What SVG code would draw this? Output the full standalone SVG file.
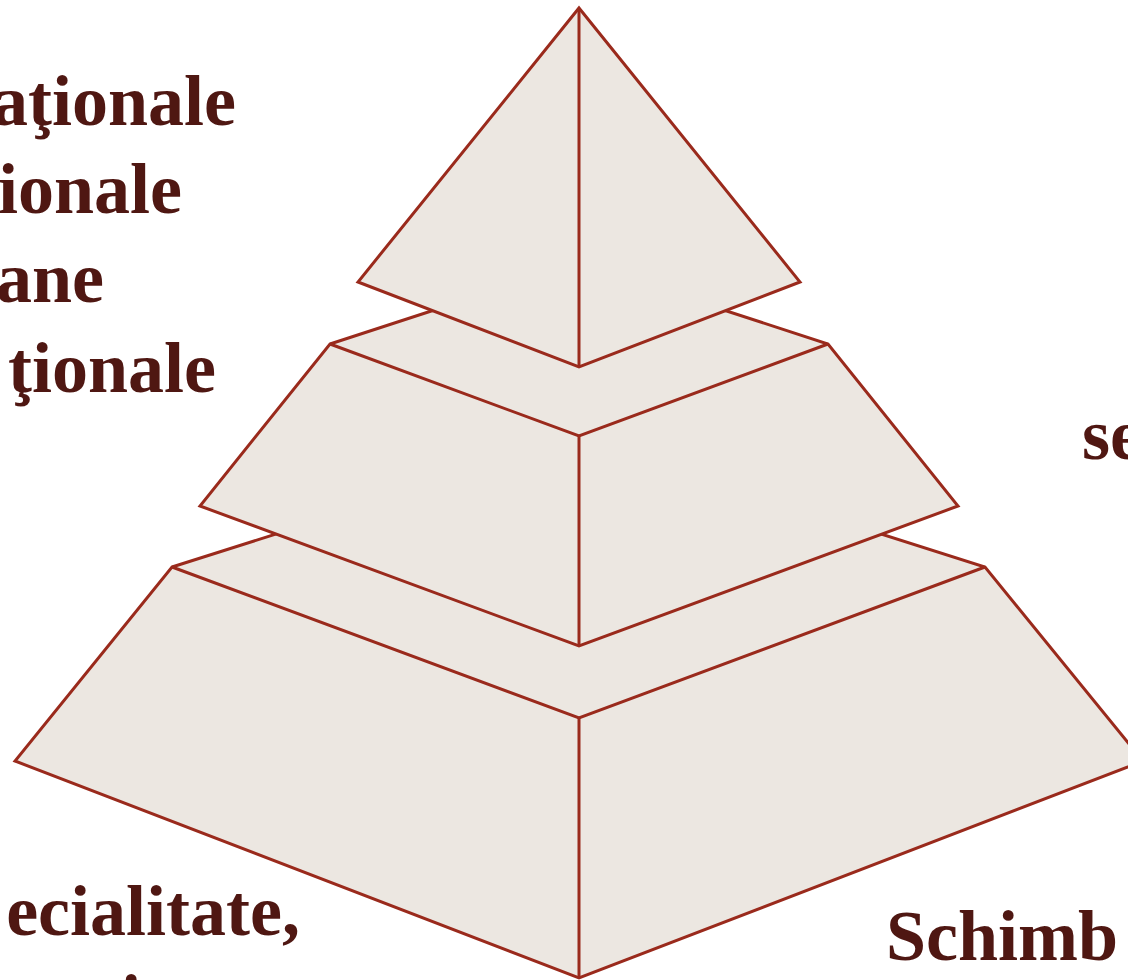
<svg xmlns="http://www.w3.org/2000/svg" width="1128" height="980" viewBox="0 0 1128 980">
<style>
.face{fill:#ECE7E1;stroke:#9A2A1C;stroke-width:3;stroke-linejoin:miter}
.edge{fill:none;stroke:#9A2A1C;stroke-width:3}
.lbl{font-family:"Liberation Serif","Times New Roman",serif;font-weight:bold;font-size:72px;fill:#4F1712}
</style>
<rect width="1128" height="980" fill="#FFFFFF"/>
<g id="tier-bottom">
<polygon class="face" points="172,567 579,438 985,567 1143,761 579,978 15,761"/>
<polyline class="edge" points="172,567 579,718 985,567"/>
<line class="edge" x1="579" y1="718" x2="579" y2="978"/>
</g>
<g id="tier-middle">
<polygon class="face" points="330,344 579,263 828,344 958,506 579,646 200,506"/>
<polyline class="edge" points="330,344 579,436 828,344"/>
<line class="edge" x1="579" y1="436" x2="579" y2="646"/>
</g>
<g id="tier-top">
<polygon class="face" points="579,8 800,282 579,367 358,282"/>
<line class="edge" x1="579" y1="8" x2="579" y2="367"/>
</g>
<g id="labels">
<text class="lbl" x="236" y="125" text-anchor="end">aţionale</text>
<text class="lbl" x="182" y="213" text-anchor="end">ionale</text>
<text class="lbl" x="104" y="302" text-anchor="end">ane</text>
<text class="lbl" x="216" y="392" text-anchor="end">ţionale</text>
<text class="lbl" x="1082" y="459">se</text>
<text class="lbl" x="300" y="935" text-anchor="end">ecialitate,</text>
<text class="lbl" x="121" y="1024">i</text>
<text class="lbl" x="886" y="960">Schimb</text>
</g>
</svg>
